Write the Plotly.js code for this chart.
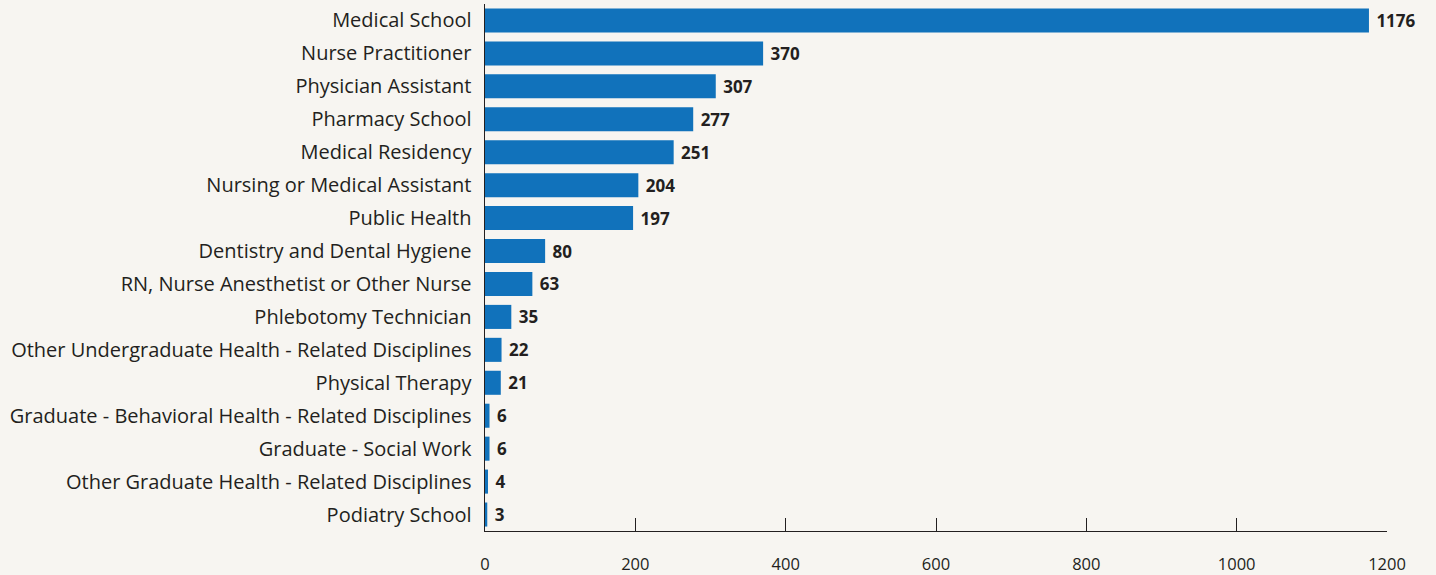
<!DOCTYPE html>
<html><head><meta charset="utf-8">
<script src="https://cdn.plot.ly/plotly-3.0.1.min.js"></script>
<style>html,body{margin:0;padding:0;background:#f7f5f1;}</style>
</head><body>
<div id="chart" style="width:1436px;height:575px;"></div>
<script>
const categories = [
  "Medical School",
  "Nurse Practitioner",
  "Physician Assistant",
  "Pharmacy School",
  "Medical Residency",
  "Nursing or Medical Assistant",
  "Public Health",
  "Dentistry and Dental Hygiene",
  "RN, Nurse Anesthetist or Other Nurse",
  "Phlebotomy Technician",
  "Other Undergraduate Health - Related Disciplines",
  "Physical Therapy",
  "Graduate - Behavioral Health - Related Disciplines",
  "Graduate - Social Work",
  "Other Graduate Health - Related Disciplines",
  "Podiatry School"
];
const values = [1176, 370, 307, 277, 251, 204, 197, 80, 63, 35, 22, 21, 6, 6, 4, 3];
const tickValues = [0, 200, 400, 600, 800, 1000, 1200];

const trace = {
  type: 'bar',
  orientation: 'h',
  y: categories,
  x: values,
  marker: {color: '#1172bb'},
  text: values.map(v => '\u00a0' + v),
  textposition: 'outside',
  textfont: {family: '"Open Sans", sans-serif', size: 17, color: '#231f20', weight: 'bold'},
  cliponaxis: false,
  hoverinfo: 'none'
};

const layout = {
  width: 1436, height: 575,
  margin: {l: 485, r: 49, t: 4, b: 44},
  paper_bgcolor: '#f7f5f1',
  plot_bgcolor: '#f7f5f1',
  bargap: 0.27,
  showlegend: false,
  font: {family: '"Open Sans", sans-serif', color: '#231f20'},
  xaxis: {
    range: [0, 1200],
    tickvals: tickValues,
    ticktext: tickValues.map(String),
    ticks: 'inside', ticklen: 13, tickcolor: '#231f20', tickwidth: 1,
    showline: true, linecolor: '#231f20', linewidth: 1,
    showgrid: false, zeroline: false,
    ticklabelstandoff: 18,
    tickfont: {size: 16.5, color: '#231f20'},
    fixedrange: true
  },
  yaxis: {
    autorange: 'reversed',
    showline: true, linecolor: '#231f20', linewidth: 1.5,
    showgrid: false, zeroline: false,
    ticks: '',
    ticklabelstandoff: 8,
    tickfont: {size: 20, color: '#231f20'},
    fixedrange: true
  }
};

Plotly.newPlot('chart', [trace], layout, {staticPlot: true, displayModeBar: false});
</script>
</body></html>
